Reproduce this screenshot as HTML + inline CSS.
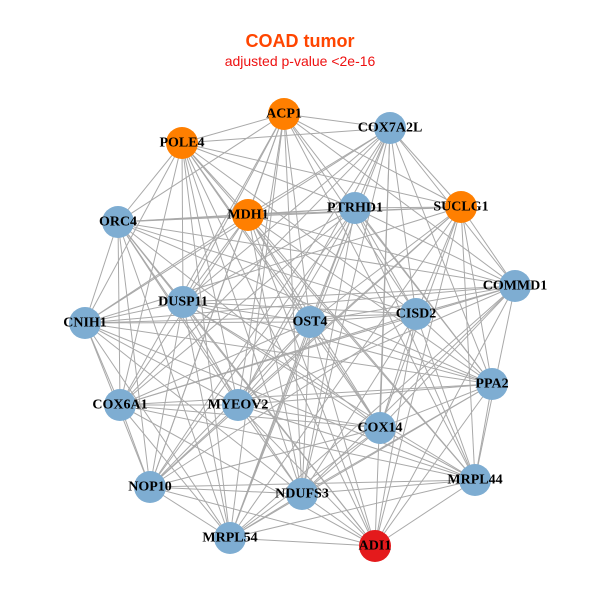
<!DOCTYPE html>
<html><head><meta charset="utf-8"><style>
html,body{margin:0;padding:0;background:#fff;}
svg{display:block;}
.l{font-family:"Liberation Serif",serif;font-weight:bold;font-size:14px;fill:#000;text-anchor:middle;dominant-baseline:central;}
</style></head><body>
<svg id="s" width="600" height="600" viewBox="0 0 600 600">
<rect width="600" height="600" fill="#fff"/>
<text x="300" y="47" font-family="Liberation Sans,sans-serif" font-weight="bold" font-size="18" fill="#ff4500" text-anchor="middle">COAD tumor</text>
<text x="300" y="66" font-family="Liberation Sans,sans-serif" font-size="14" fill="#ee1111" text-anchor="middle">adjusted p-value &lt;2e-16</text>
<g id="e" stroke="#a9a9a9" stroke-width="1"></g>
<g id="n"></g>
</svg>
<script>
var N=[["ACP1",284,114,"o"],["COX7A2L",390,128,"b"],["POLE4",182,143,"o"],["SUCLG1",461,207,"o"],["MDH1",248,215,"o"],["PTRHD1",355,208,"b"],["ORC4",118,222,"b"],["COMMD1",515,286,"b"],["DUSP11",183,302,"b"],["CISD2",416,314,"b"],["CNIH1",85,323,"b"],["OST4",310,322,"b"],["PPA2",492,384,"b"],["COX6A1",120,405,"b"],["MYEOV2",238,405,"b"],["COX14",380,428,"b"],["MRPL44",475,480,"b"],["NOP10",150,487,"b"],["NDUFS3",302,494,"b"],["MRPL54",230,538,"b"],["ADI1",375,546,"r"]];
var C={o:"#ff7f00",b:"#7eadd2",r:"#e41a1c"};
var ns="http://www.w3.org/2000/svg",e=document.getElementById("e"),g=document.getElementById("n");
for(var i=0;i<N.length;i++)for(var j=i+1;j<N.length;j++){
 if((i*7+j*3)%5==0)continue;
 var l=document.createElementNS(ns,"line");
 l.setAttribute("x1",N[i][1]);l.setAttribute("y1",N[i][2]);l.setAttribute("x2",N[j][1]);l.setAttribute("y2",N[j][2]);e.appendChild(l);}
N.forEach(function(d){var c=document.createElementNS(ns,"circle");c.setAttribute("cx",d[1]);c.setAttribute("cy",d[2]);c.setAttribute("r",16);c.setAttribute("fill",C[d[3]]);g.appendChild(c);});
N.forEach(function(d){var t=document.createElementNS(ns,"text");t.setAttribute("x",d[1]);t.setAttribute("y",d[2]);t.setAttribute("class","l");t.textContent=d[0];g.appendChild(t);});
</script>
</body></html>
